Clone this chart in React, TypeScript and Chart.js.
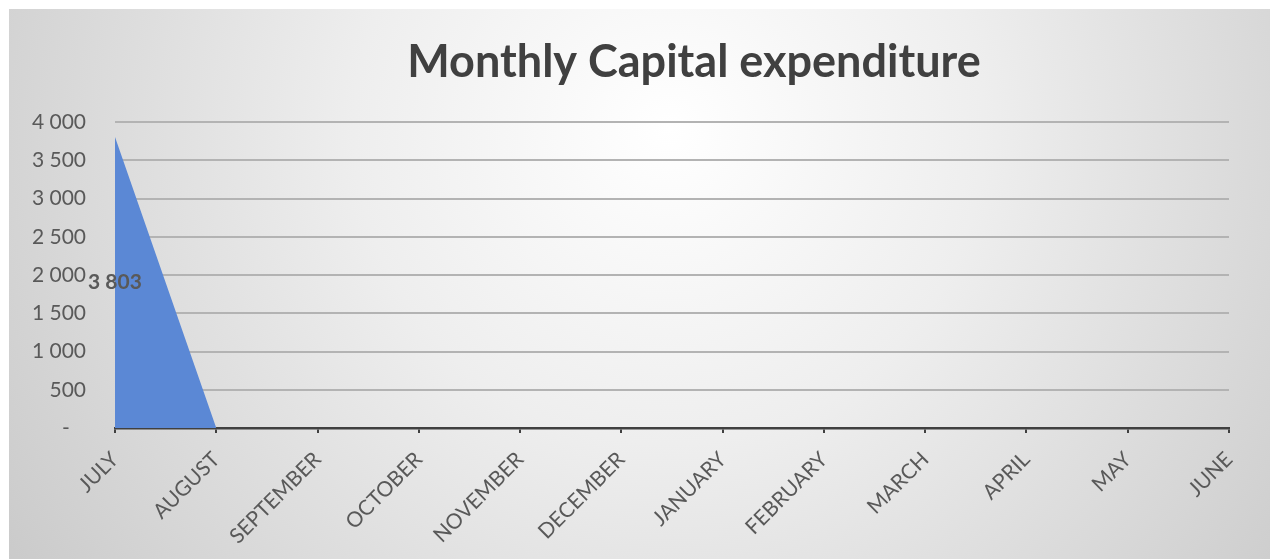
import React, { useEffect, useRef } from 'react';
import { Chart, registerables } from 'chart.js';

Chart.register(...registerables);

const months = ['JULY', 'AUGUST', 'SEPTEMBER', 'OCTOBER', 'NOVEMBER', 'DECEMBER', 'JANUARY', 'FEBRUARY', 'MARCH', 'APRIL', 'MAY', 'JUNE'];
const capex = [3803, 0, 0, 0, 0, 0, 0, 0, 0, 0, 0, 0];
const yMin = 0;
const yMax = 4000;
const yStep = 500;
const titleText = 'Monthly Capital expenditure';

const W = 1261;
const H = 550;
const FONT = 'Lato, "Open Sans", sans-serif';

function fmt(v: number): string {
  if (v === 0) return '-   ';
  const s = Math.round(v).toString();
  return s.replace(/\B(?=(\d{3})+(?!\d))/g, ' ');
}

const backgroundPlugin = {
  id: 'bg',
  beforeDraw(chart: any) {
    const ctx = chart.ctx;
    ctx.save();
    const g = ctx.createRadialGradient(660, 120, 0, 660, 120, 900);
    g.addColorStop(0, '#ffffff');
    g.addColorStop(0.35, '#eeeeee');
    g.addColorStop(1, '#c2c2c2');
    ctx.fillStyle = g;
    ctx.fillRect(0, 0, chart.width, chart.height);
    ctx.restore();
  },
};

const titlePlugin = {
  id: 'customTitle',
  afterDraw(chart: any) {
    const ctx = chart.ctx;
    ctx.save();
    ctx.font = `bold 45px ${FONT}`;
    ctx.fillStyle = '#404040';
    ctx.textAlign = 'center';
    ctx.textBaseline = 'alphabetic';
    ctx.fillText(titleText, 685, 68);
    ctx.restore();
  },
};

const dataLabelPlugin = {
  id: 'dataLabels',
  afterDatasetsDraw(chart: any) {
    const ctx = chart.ctx;
    const xs = chart.scales.x;
    const ys = chart.scales.y;
    ctx.save();
    ctx.font = `bold 21px ${FONT}`;
    ctx.fillStyle = '#595959';
    ctx.textAlign = 'center';
    ctx.textBaseline = 'middle';
    capex.forEach((v, i) => {
      if (v > 0) {
        ctx.fillText(fmt(v), xs.getPixelForValue(i), ys.getPixelForValue(v / 2));
      }
    });
    ctx.restore();
  },
};

export default function App() {
  const ref = useRef<HTMLCanvasElement | null>(null);

  useEffect(() => {
    document.body.style.margin = '0';
    const canvas = ref.current;
    if (!canvas) return;
    const chart = new Chart(canvas, {
      type: 'line',
      data: {
        labels: months,
        datasets: [
          {
            data: capex,
            fill: 'origin',
            backgroundColor: '#5b88d5',
            borderColor: 'rgba(0,0,0,0)',
            borderWidth: 0,
            pointRadius: 0,
            tension: 0,
          },
        ],
      },
      options: {
        responsive: false,
        animation: false,
        devicePixelRatio: 1,
        layout: { padding: { left: 0, right: 41, top: 113, bottom: 0 } },
        plugins: {
          legend: { display: false },
          title: { display: false },
          tooltip: { enabled: false },
        },
        scales: {
          x: {
            offset: false,
            afterFit(scale: any) {
              scale.height = H - 419;
            },
            grid: {
              drawOnChartArea: false,
              drawTicks: true,
              tickLength: 5,
              color: '#404040',
              lineWidth: 2,
            },
            border: { display: true, color: '#404040', width: 2.5 },
            ticks: {
              autoSkip: false,
              minRotation: 45,
              maxRotation: 45,
              padding: 14,
              color: '#595959',
              font: { family: FONT, size: 21 },
            },
          },
          y: {
            min: yMin,
            max: yMax,
            afterFit(scale: any) {
              scale.width = 106;
            },
            grid: {
              drawTicks: false,
              color: '#b3b3b3',
              lineWidth: 2,
            },
            border: { display: false },
            ticks: {
              stepSize: yStep,
              padding: 29,
              color: '#595959',
              font: { family: FONT, size: 21 },
              callback: (v: any) => fmt(Number(v)),
            },
          },
        },
      },
      plugins: [backgroundPlugin, titlePlugin, dataLabelPlugin],
    });
    return () => chart.destroy();
  }, []);

  return (
    <div style={{ paddingLeft: 9, paddingTop: 9, width: W, height: H }}>
      <canvas ref={ref} width={W} height={H} style={{ display: 'block', width: W, height: H }} />
    </div>
  );
}
